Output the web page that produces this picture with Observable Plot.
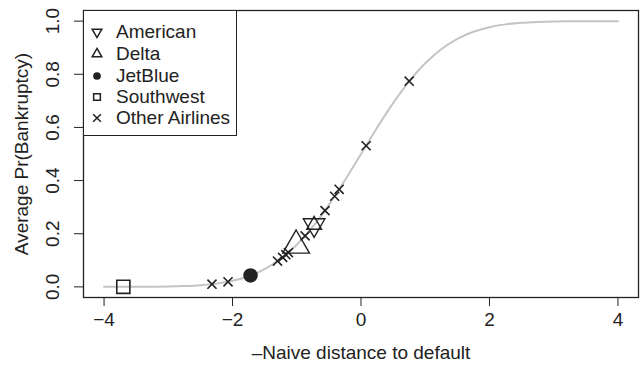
<!DOCTYPE html>
<html>
<head>
<meta charset="utf-8">
<script src="https://cdn.jsdelivr.net/npm/d3@7"></script>
<script src="https://cdn.jsdelivr.net/npm/@observablehq/plot@0.6"></script>
<style>
  html, body { margin: 0; padding: 0; background: white; }
  #wrap { position: relative; width: 641px; height: 368px; }
  #legend { position: absolute; left: 83px; top: 10px; width: 154px; height: 126px; border: 1.3px solid #222; background: white; box-sizing: border-box;
    font-family: "Liberation Sans", Arial, sans-serif; font-size: 19px; color: #222; }
  .row { position: absolute; left: 0; height: 20px; display: flex; align-items: center; }
  .row svg { width: 28px; height: 20px; }
  .row span { margin-left: 4px; line-height: 20px; }
</style>
</head>
<body>
<div id="wrap"><div id="legend"></div></div>
<script>
// Curve (average predicted probability vs. -naive distance to default)
const curveX = [-4, -3.75, -3.5, -3.25, -3, -2.75, -2.5, -2.25, -2, -1.75, -1.5, -1.25, -1, -0.75, -0.5, -0.25, 0,
  0.25, 0.5, 0.75, 1, 1.25, 1.5, 1.75, 2, 2.25, 2.5, 2.75, 3, 3.25, 3.5, 3.75, 4];
const curveY = [0.000, 0.0001, 0.0002, 0.0006, 0.0013, 0.003, 0.0062, 0.0122, 0.0228, 0.0401, 0.0668, 0.1056, 0.1587, 0.2266, 0.3085, 0.4013, 0.5,
  0.5987, 0.6915, 0.7734, 0.8413, 0.8944, 0.9332, 0.9599, 0.9772, 0.9878, 0.9938, 0.997, 0.9987, 0.9994, 0.9998, 0.9999, 1.0];

// Airlines
const americanX = [-0.73];
const americanY = [0.233];
const deltaX = [-1.01, -0.73];
const deltaY = [0.156, 0.233];
const deltaSize = [1.8, 1.0];
const jetblueX = [-1.72];
const jetblueY = [0.043];
const southwestX = [-3.70];
const southwestY = [0.0001];
const otherX = [-2.32, -2.07, -1.30, -1.22, -1.17, -1.13, -0.87, -0.56, -0.41, -0.34, 0.08, 0.75];
const otherY = [0.010, 0.019, 0.097, 0.111, 0.121, 0.129, 0.192, 0.287, 0.341, 0.367, 0.531, 0.774];

const xTicks = [-4, -2, 0, 2, 4];
const yTicks = [0, 0.2, 0.4, 0.6, 0.8, 1.0];
const xTitle = "\u2013Naive distance to default";
const yTitle = "Average Pr(Bankruptcy)";
const legendNames = ["American", "Delta", "JetBlue", "Southwest", "Other Airlines"];
const legendSymbols = ["triangle-down", "triangle", "circle", "square", "times"];

const curve = curveX.map((x, i) => ({x, y: curveY[i]}));
const american = americanX.map((x, i) => ({x, y: americanY[i]}));
const delta = deltaX.map((x, i) => ({x, y: deltaY[i], s: deltaSize[i]}));
const jetblue = jetblueX.map((x, i) => ({x, y: jetblueY[i]}));
const southwest = southwestX.map((x, i) => ({x, y: southwestY[i]}));
const other = otherX.map((x, i) => ({x, y: otherY[i]}));

const ink = "#222";
const font = "'Liberation Sans', Arial, sans-serif";

const chart = Plot.plot({
  width: 641, height: 368,
  marginLeft: 83, marginRight: 3, marginTop: 10, marginBottom: 71,
  x: {domain: [-4.32, 4.32]},
  y: {domain: [-0.04, 1.04]},
  r: {type: "identity"},
  style: {fontFamily: font, fontSize: "19px", background: "white", color: ink},
  marks: [
    Plot.line(curve, {x: "x", y: "y", stroke: "#c4c4c4", strokeWidth: 2, curve: "catmull-rom"}),
    Plot.dot(southwest, {x: "x", y: "y", symbol: "square", r: 7.4, stroke: ink, strokeWidth: 1.6, fill: "none"}),
    Plot.dot(jetblue, {x: "x", y: "y", symbol: "circle", r: 6.5, fill: ink, stroke: ink}),
    Plot.dot(other, {x: "x", y: "y", symbol: "times", r: 4.2, stroke: ink, strokeWidth: 1.6}),
    Plot.dot(delta, {x: "x", y: "y", symbol: "triangle", r: d => 5.5 * d.s, stroke: ink, strokeWidth: 1.4, fill: "none"}),
    Plot.dot(american, {x: "x", y: "y", symbol: "triangle", rotate: 180, r: 8, stroke: ink, strokeWidth: 1.4, fill: "none"}),
    Plot.frame({stroke: ink, strokeWidth: 1.3}),
    Plot.axisX({ticks: xTicks, tickSize: 9, tickPadding: 6, tickFormat: d => d < 0 ? "\u2212" + (-d) : String(d), label: null, stroke: ink}),
    Plot.axisY({ticks: yTicks, tickSize: 9, tickFormat: () => "", label: null, stroke: ink}),
    Plot.text(yTicks, {y: d => d, text: d => d.toFixed(1), frameAnchor: "left", dx: -31, rotate: -90, textAnchor: "middle", lineAnchor: "middle", fontSize: 19, fill: ink}),
    Plot.text([xTitle], {text: d => d, frameAnchor: "bottom", dy: 61, fontSize: 19, fill: ink}),
    Plot.text([yTitle], {text: d => d, frameAnchor: "left", dx: -62, rotate: -90, textAnchor: "middle", lineAnchor: "middle", fontSize: 19, fill: ink})
  ]
});
document.getElementById("wrap").insertBefore(chart, document.getElementById("legend"));

// Legend
const leg = d3.select("#legend");
const rowTops = [12, 33.5, 55.5, 77, 98];
legendNames.forEach((name, i) => {
  const row = leg.append("div").attr("class", "row").style("top", (rowTops[i] - 1) + "px").style("left", "0px");
  const svg = row.append("svg");
  const sym = legendSymbols[i];
  const g = svg.append("g").attr("transform", `translate(13,10)` + (sym === "triangle-down" ? " rotate(180)" : ""));
  let type = d3.symbolCircle, size = 30;
  if (sym === "triangle" || sym === "triangle-down") { type = d3.symbolTriangle; size = 40; }
  if (sym === "square") { type = d3.symbolSquare; size = 45; }
  if (sym === "times") { type = d3.symbolTimes; size = 40; }
  g.append("path").attr("d", d3.symbol(type, size)())
    .attr("fill", sym === "circle" ? ink : "none").attr("stroke", ink).attr("stroke-width", 1.5);
  row.append("span").text(name);
});
</script>
</body>
</html>
